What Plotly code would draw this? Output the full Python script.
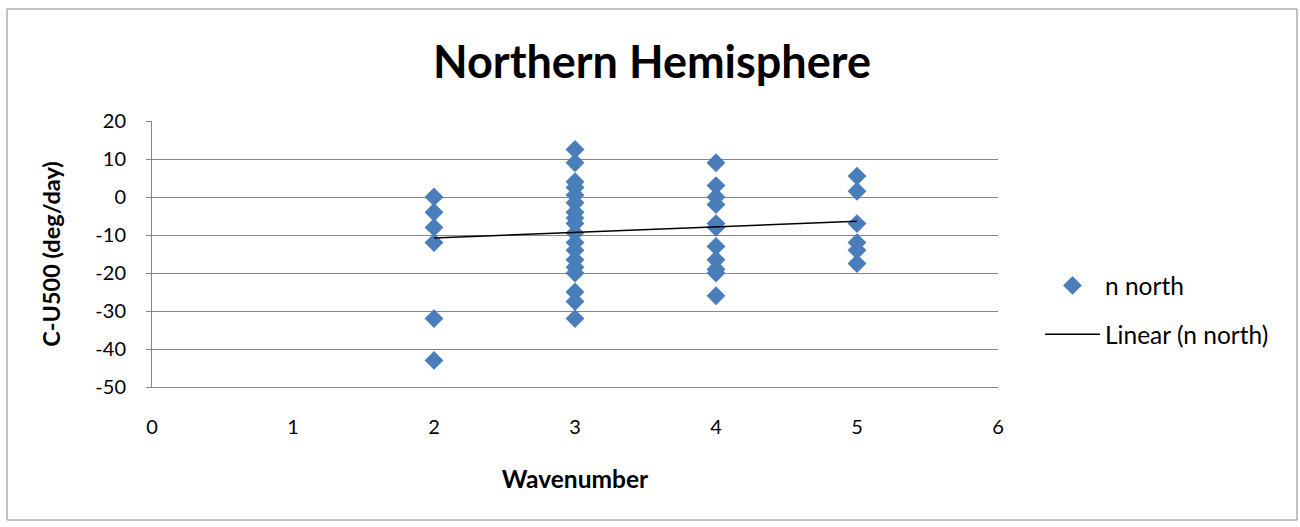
import numpy as np
import plotly.graph_objects as go

# Phase speed minus 500 hPa wind (deg/day) for each zonal wavenumber
wave_2 = [0, -4, -8, -12, -32, -43]
wave_3 = [12.5, 9, 4, 2.5, 0.5, -1.5, -4, -5.5, -7, -9.5, -12, -14,
          -16.5, -18.5, -20, -25, -27.5, -32]
wave_4 = [9, 3, 0, -2, -7, -8, -13, -16.5, -19, -20, -26]
wave_5 = [5.5, 1.5, -7, -12, -14, -17.5]

# Linear trend (slope, intercept) and the wavenumber span it covers
trend_slope = 1.47
trend_intercept = -13.74
trend_span = [2, 5]

x_ticks = [0, 1, 2, 3, 4, 5, 6]
y_ticks = [20, 10, 0, -10, -20, -30, -40, -50]
y_tick_text = ["20", "10", "0", "-10", "-20", "-30", "-40", "-50"]

xs, ys = [], []
for k, vals in zip([2, 3, 4, 5], [wave_2, wave_3, wave_4, wave_5]):
    xs += [k] * len(vals)
    ys += vals

trend_x = np.array(trend_span, dtype=float)
trend_y = trend_slope * trend_x + trend_intercept

FONT = "Lato"
GRID = "#868686"

fig = go.Figure()
fig.add_trace(go.Scatter(
    x=xs, y=ys, mode="markers", name="n north", legendgroup="pts",
    marker=dict(symbol="diamond", size=14.5, color="#4A7EBB", line=dict(width=0)),
))
fig.add_trace(go.Scatter(
    x=trend_x, y=trend_y, mode="lines", name="Linear (n north)", legendgroup="fit",
    line=dict(color="black", width=1.5),
))

L, R, T, B = 152, 302, 121, 140
W, H = 1300, 527
pw, ph = W - L - R, H - T - B

def px_x(p):
    return (p - L) / pw

def px_y(p):
    return (H - B - p) / ph

fig.update_layout(
    width=W, height=H,
    margin=dict(l=L, r=R, t=T, b=B),
    paper_bgcolor="white", plot_bgcolor="white",
    font=dict(family=FONT, size=20, color="black"),
    title=dict(text="<b>Northern Hemisphere</b>", x=px_x(652), xref="paper",
               xanchor="center", y=1 - 62 / H, yref="container", yanchor="middle",
               font=dict(size=45, family=FONT)),
    showlegend=True,
    legend=dict(x=px_x(1040), y=px_y(310), xanchor="left", yanchor="middle",
                bgcolor="rgba(0,0,0,0)", font=dict(size=24.5),
                itemwidth=55, tracegroupgap=14),
    xaxis=dict(range=[0, 6], tickvals=x_ticks, showgrid=False, zeroline=False,
               showline=True, linecolor=GRID, linewidth=1,
               ticks="", ticklabelstandoff=22, tickfont=dict(size=20),
               title=dict(text="<b>Wavenumber</b>", font=dict(size=24.5), standoff=33)),
    yaxis=dict(range=[-50, 20], tickvals=y_ticks, ticktext=y_tick_text,
               showgrid=True, gridcolor=GRID,
               gridwidth=1, zeroline=False, showline=True, linecolor=GRID,
               linewidth=1, ticks="outside", ticklen=5, tickcolor=GRID,
               ticklabelstandoff=16, tickfont=dict(size=20),
               title=dict(text="<b>C-U500 (deg/day)</b>", font=dict(size=23.5), standoff=28)),
    shapes=[dict(type="rect", xref="paper", yref="paper",
                 x0=px_x(7), x1=px_x(1297), y0=px_y(520), y1=px_y(9),
                 line=dict(color=GRID, width=1), fillcolor="rgba(0,0,0,0)", layer="below")],
)

fig.write_html("out.html")
